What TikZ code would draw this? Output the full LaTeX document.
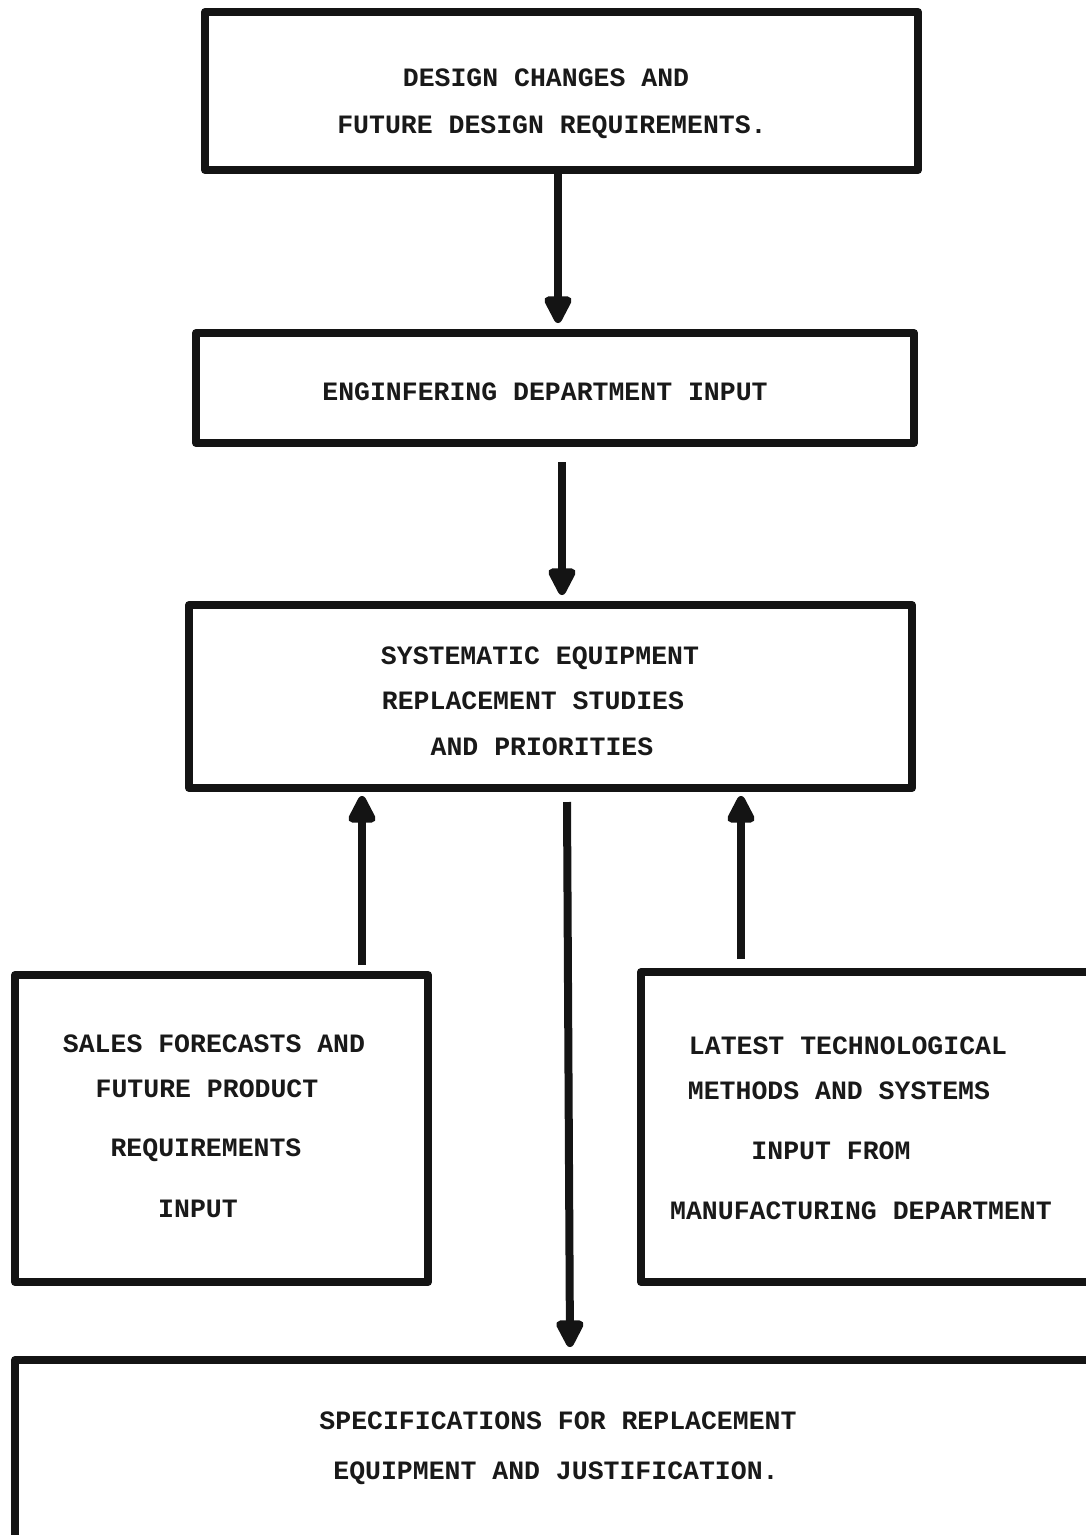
\documentclass[tikz,border=0pt]{standalone}
\usepackage{fontspec}
\setmonofont{Liberation Mono}
\usetikzlibrary{arrows.meta}
\begin{document}
\begin{tikzpicture}[x=1pt,y=-1pt,
  box/.style={draw=black!92,line width=8pt,rectangle,inner sep=0pt,line join=round},
  lbl/.style={anchor=base,inner sep=0pt,font=\ttfamily\bfseries\fontsize{26.5}{30}\selectfont,text=black!90},
  arr/.style={draw=black!92,line width=8pt,-{Triangle[width=30pt,length=32pt,round]}}]
\useasboundingbox (0,0) rectangle (1086,1535);
% boxes
\node[box,minimum width=713pt,minimum height=158pt] (b1) at (561.5,91) {};
\node[box,minimum width=718pt,minimum height=110pt] (b2) at (555,388) {};
\node[box,minimum width=723pt,minimum height=183pt] (b3) at (550.5,696.5) {};
\node[box,minimum width=413pt,minimum height=307pt] (b4) at (221.5,1128.5) {};
\node[box,minimum width=454pt,minimum height=310pt] (b5) at (868,1127) {};
\node[box,minimum width=1080pt,minimum height=185pt] (b6) at (555,1452.5) {};
% texts
\node[lbl] (t1a) at (546,86) {DESIGN CHANGES AND};
\node[lbl] (t1b) at (552,133) {FUTURE DESIGN REQUIREMENTS.};
\node[lbl] (t2) at (545,400) {ENGINFERING DEPARTMENT INPUT};
\node[lbl] (t3a) at (540,664) {SYSTEMATIC EQUIPMENT};
\node[lbl] (t3b) at (533,709) {REPLACEMENT STUDIES};
\node[lbl] (t3c) at (542,755) {AND PRIORITIES};
\node[lbl] (t4a) at (214,1052) {SALES FORECASTS AND};
\node[lbl] (t4b) at (207,1097) {FUTURE PRODUCT};
\node[lbl] (t4c) at (206,1156) {REQUIREMENTS};
\node[lbl] (t4d) at (198,1217) {INPUT};
\node[lbl] (t5a) at (848,1054) {LATEST TECHNOLOGICAL};
\node[lbl] (t5b) at (839,1099) {METHODS AND SYSTEMS};
\node[lbl] (t5c) at (831,1159) {INPUT FROM};
\node[lbl] (t5d) at (861,1219) {MANUFACTURING DEPARTMENT};
\node[lbl] (t6a) at (558,1429) {SPECIFICATIONS FOR REPLACEMENT};
\node[lbl] (t6b) at (556,1479) {EQUIPMENT AND JUSTIFICATION.};
% connectors (yshift is in page units: positive moves up)
\draw[arr] (558,0 |- b1.south) -- ([yshift=6pt]558,0 |- b2.north);
\draw[arr] ([yshift=-15pt]562,0 |- b2.south) -- ([yshift=6pt]562,0 |- b3.north);
\draw[arr] ([yshift=6pt]362,0 |- b4.north) -- ([yshift=-4pt]362,0 |- b3.south);
\draw[arr] ([yshift=9pt]741,0 |- b5.north) -- ([yshift=-4pt]741,0 |- b3.south);
\draw[arr] ([yshift=-10pt]567,0 |- b3.south) -- ([yshift=9pt]570,0 |- b6.north);
\end{tikzpicture}
\end{document}
